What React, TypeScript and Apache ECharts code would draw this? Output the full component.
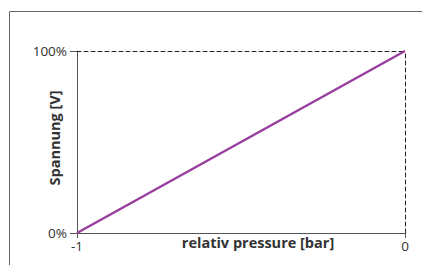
import React, { useEffect, useRef } from "react";
import * as echarts from "echarts";

const pressure = [-1, 0];
const voltagePct = [0, 100];
const xTicks = [-1, 0];
const yTicks = [0, 100];

export default function App() {
  const ref = useRef<HTMLDivElement>(null);
  useEffect(() => {
    const chart = echarts.init(ref.current!, null, { renderer: "svg" });
    const font = "'Open Sans', 'Noto Sans', sans-serif";
    chart.setOption({
      animation: false,
      backgroundColor: "#fff",
      grid: { left: 77, right: 17, top: 51, bottom: 32, containLabel: false },
      graphic: [
        {
          type: "rect",
          shape: { x: 9.5, y: 11.5, width: 500, height: 300 },
          style: { fill: "none", stroke: "#666", lineWidth: 1 },
          silent: true,
        },
      ],
      xAxis: [
        {
          type: "value",
          min: xTicks[0],
          max: xTicks[xTicks.length - 1],
          interval: 1,
          position: "bottom",
          axisLine: { onZero: false, lineStyle: { color: "#555", width: 1 } },
          axisTick: { show: true, length: 5, lineStyle: { color: "#555" } },
          axisLabel: { color: "#333", fontSize: 13.5, fontFamily: font, margin: 6 },
          splitLine: { show: false },
          name: "relativ pressure [bar]",
          nameLocation: "middle",
          nameGap: 2,
          nameMoveOverlap: false,
          nameTextStyle: {
            color: "#333",
            fontSize: 14.5,
            fontWeight: "bold",
            fontFamily: font,
            padding: [0, 0, 0, 34],
          },
        },
        {
          type: "value",
          min: xTicks[0],
          max: xTicks[xTicks.length - 1],
          position: "top",
          axisLine: { show: true, onZero: false, lineStyle: { color: "#222", type: [4, 3], width: 1 } },
          axisTick: { show: false },
          axisLabel: { show: false },
          splitLine: { show: false },
        },
      ],
      yAxis: [
        {
          type: "value",
          min: yTicks[0],
          max: yTicks[yTicks.length - 1],
          interval: 100,
          position: "left",
          axisLine: { show: true, onZero: false, lineStyle: { color: "#555", width: 1 } },
          axisTick: { show: true, length: 7, lineStyle: { color: "#555" } },
          axisLabel: {
            color: "#333",
            fontSize: 13.5,
            fontFamily: font,
            margin: 10,
            formatter: "{value}%",
          },
          splitLine: { show: false },
          name: "Spannung [V]",
          nameLocation: "middle",
          nameGap: 15,
          nameMoveOverlap: false,
          nameTextStyle: {
            color: "#333",
            fontSize: 14.5,
            fontWeight: "bold",
            fontFamily: font,
            padding: [0, 0, 0, 8],
          },
        },
        {
          type: "value",
          min: yTicks[0],
          max: yTicks[yTicks.length - 1],
          position: "right",
          axisLine: { show: true, onZero: false, lineStyle: { color: "#222", type: [4, 3], width: 1 } },
          axisTick: { show: false },
          axisLabel: { show: false },
          splitLine: { show: false },
        },
      ],
      series: [
        {
          type: "line",
          data: pressure.map((p, i) => [p, voltagePct[i]]),
          showSymbol: false,
          lineStyle: { color: "#9a3e9e", width: 2.5 },
          z: 5,
        },
      ],
    });
    return () => chart.dispose();
  }, []);
  return <div ref={ref} style={{ width: 422, height: 265, position: "absolute", left: 0, top: 0 }} />;
}
